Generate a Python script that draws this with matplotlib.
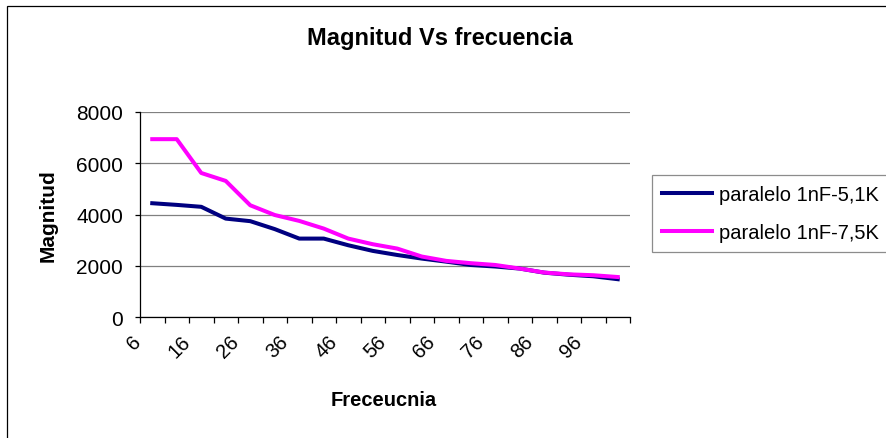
import numpy as np
import matplotlib
matplotlib.use('Agg')
import matplotlib.pyplot as plt
import matplotlib.transforms as mtransforms
from matplotlib.patches import Rectangle

plt.rcParams['font.family'] = ['Liberation Sans', 'DejaVu Sans']

# data
freq = [6, 11, 16, 21, 26, 31, 36, 41, 46, 51, 56, 61, 66, 71, 76, 81, 86, 91, 96, 101]
mag_51k = [4440, 4375, 4300, 3840, 3740, 3430, 3060, 3060, 2800, 2580,
           2420, 2280, 2160, 2030, 1970, 1890, 1730, 1650, 1590, 1475]
mag_75k = [6940, 6940, 5620, 5310, 4360, 3980, 3750, 3450, 3060, 2840,
           2670, 2360, 2190, 2100, 2030, 1890, 1735, 1665, 1630, 1560]
names = ['paralelo 1nF-5,1K', 'paralelo 1nF-7,5K']
colors = ['#000080', '#FF00FF']

W, H = 887, 439
fig = plt.figure(figsize=(W/100, H/100), dpi=100)
ax = fig.add_axes([140/W, 1-318/H, 490/W, 205/H])

# outer chart border (right/bottom run off the picture)
fig.patches.append(Rectangle((7/W, -0.05), 1, 1-7/H+0.05, transform=fig.transFigure,
                             fill=False, edgecolor='black', linewidth=0.9))

x = np.arange(len(freq))
for vals, name, c in zip([mag_51k, mag_75k], names, colors):
    ax.plot(x, vals, color=c, linewidth=2.9, label=name)

ax.set_xlim(-0.5, len(freq) - 0.5)
ax.set_ylim(0, 8000)
ax.set_yticks([0, 2000, 4000, 6000, 8000])
ax.yaxis.grid(True, color='#808080', linewidth=0.9)
ax.set_axisbelow(True)
for s in ['top', 'right']:
    ax.spines[s].set_visible(False)
for s in ['left', 'bottom']:
    ax.spines[s].set_linewidth(0.9)

# tick marks at category boundaries, labels at centres (every other)
ax.set_xticks(np.arange(len(freq) + 1) - 0.5)
ax.set_xticklabels([])
ax.set_xticks(x[::2], minor=True)
ax.set_xticklabels([str(f) for f in freq[::2]], minor=True, rotation=45,
                   ha='right', va='center', rotation_mode='anchor', fontsize=14.5)
ax.tick_params(axis='x', which='major', direction='out', length=4, width=0.9)
ax.tick_params(axis='x', which='minor', length=0, pad=15)
ax.tick_params(axis='y', direction='out', length=3.6, width=0.9, labelsize=15, pad=8.5)
offset = mtransforms.ScaledTranslation(-14/100, 0, fig.dpi_scale_trans)
for lab in ax.xaxis.get_minorticklabels():
    lab.set_transform(lab.get_transform() + offset)

fig.text(440/W, 1-45/H, 'Magnitud Vs frecuencia', ha='center', va='baseline',
         fontsize=17, fontweight='bold')
fig.text(48/W, 1-216/H, 'Magnitud', ha='center', va='center', rotation=90,
         fontsize=15, fontweight='bold')
fig.text(384/W, 1-406/H, 'Freceucnia', ha='center', va='baseline',
         fontsize=14.5, fontweight='bold')

leg = ax.legend(loc='upper left', bbox_to_anchor=(652/W, 1-176/H),
                bbox_transform=fig.transFigure, fontsize=14.5, frameon=True,
                fancybox=False, handlelength=2.5, handletextpad=0.35, borderaxespad=0,
                labelspacing=0.95, borderpad=0.5)
leg.get_frame().set_edgecolor('#707070')
leg.get_frame().set_linewidth(0.9)

fig.savefig('out.png', dpi=100)
